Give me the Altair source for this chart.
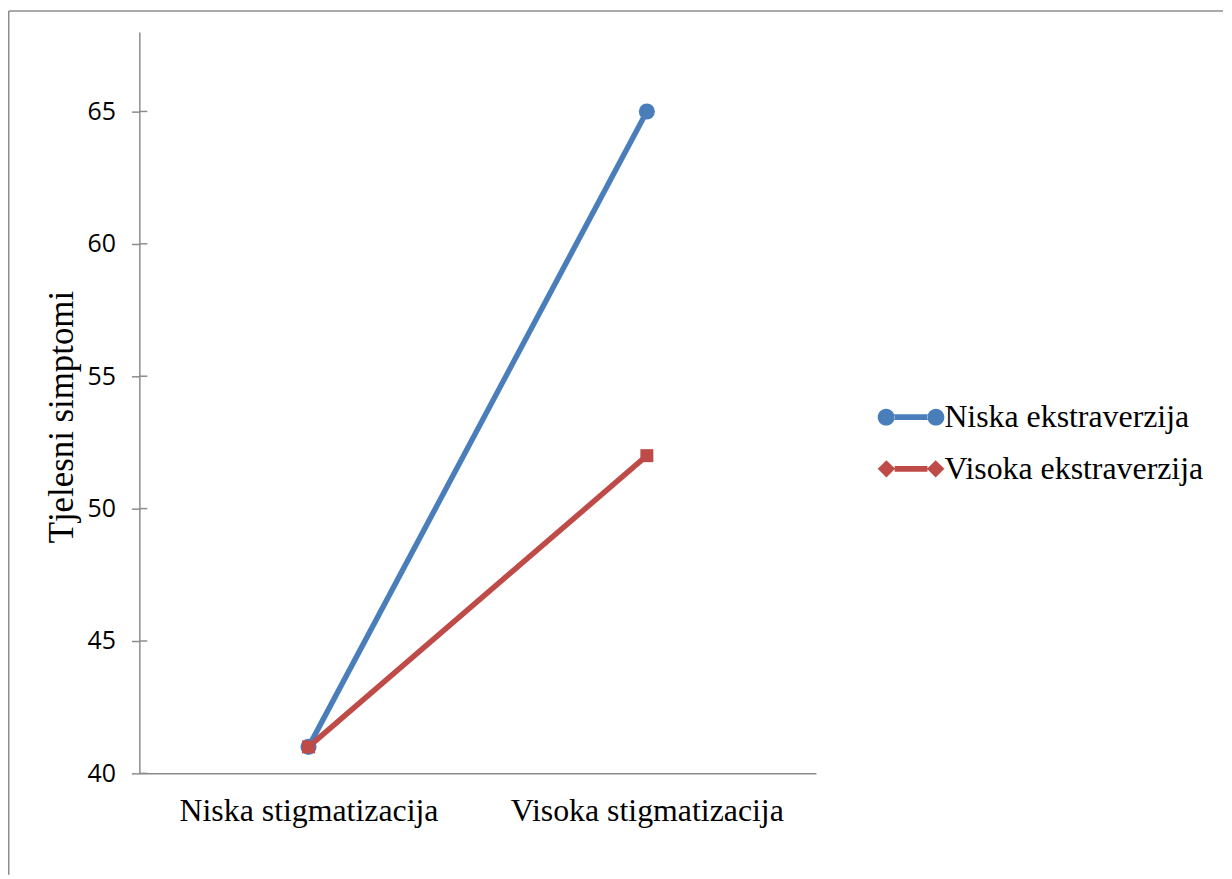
import altair as alt
import pandas as pd

# ---- data ----
categories = ["Niska stigmatizacija", "Visoka stigmatizacija"]
series_names = ["Niska ekstraverzija", "Visoka ekstraverzija"]
niska_ekstraverzija = [41, 65]
visoka_ekstraverzija = [41, 52]
y_ticks = [40, 45, 50, 55, 60, 65]
y_domain = [40, 68]
y_title = "Tjelesni simptomi"

# ---- styles ----
colors = ["#4A7EBB", "#BE4B48"]
axis_gray = "#8c8c8c"
serif = "Liberation Serif"

rows = []
for s, vals in zip(series_names, [niska_ekstraverzija, visoka_ekstraverzija]):
    for c, v in zip(categories, vals):
        rows.append({"kategorija": c, "serija": s, "vrijednost": v})
df = pd.DataFrame(rows)

x_enc = alt.X(
    "kategorija:N", sort=categories,
    scale=alt.Scale(type="point", padding=0.5),
    axis=alt.Axis(title=None, labelAngle=0, labelFont=serif, labelFontSize=32,
                  labelColor="black", ticks=False, tickSize=0, labelPadding=22,
                  domainColor=axis_gray, domainWidth=1.5, grid=False, labelLimit=0),
)
y_scale = alt.Scale(domain=y_domain, nice=False, zero=False)
y_axis = alt.Axis(values=y_ticks, title=y_title, titleFont=serif, titleFontSize=35,
                  titleFontWeight="normal", titleColor="black", titleX=-78, titleY=386.5,
                  titleAngle=270, titleAlign="center", titleBaseline="middle",
                  labelFont="Open Sans", labelFontSize=25, labelColor="black",
                  labelPadding=16, tickSize=8, tickColor=axis_gray, tickWidth=1.5,
                  domainColor=axis_gray, domainWidth=1.5, grid=False)
y_enc = alt.Y("vrijednost:Q", scale=y_scale, axis=y_axis)
color_scale = alt.Scale(domain=series_names, range=colors)

# legend symbols: line with circle / diamond ends (custom SVG paths)
path_circle = ("M -1.34 0 A 0.34 0.34 0 1 0 -0.66 0 A 0.34 0.34 0 1 0 -1.34 0 Z "
               "M 0.66 0 A 0.34 0.34 0 1 0 1.34 0 A 0.34 0.34 0 1 0 0.66 0 Z "
               "M -0.68 -0.12 L 0.68 -0.12 L 0.68 0.12 L -0.68 0.12 Z")
path_diamond = ("M -1.34 0 L -0.99 -0.35 L -0.64 0 L -0.99 0.35 Z "
                "M 0.64 0 L 0.99 -0.35 L 1.34 0 L 0.99 0.35 Z "
                "M -0.66 -0.12 L 0.66 -0.12 L 0.66 0.12 L -0.66 0.12 Z")

leg = alt.Legend(title=None, orient="none", legendX=750.5, legendY=362,
                 symbolSize=2500, symbolStrokeWidth=0, symbolOpacity=1,
                 labelFont=serif, labelFontSize=32, labelColor="black",
                 labelOffset=8.5, rowPadding=11, padding=0, labelLimit=0)

base = alt.Chart(df)

# frame (left and top edges of the chart border)
frame_df = pd.DataFrame({"k": [0]})
frame_left = alt.Chart(frame_df).mark_rule(color=axis_gray, strokeWidth=1.5).encode(
    x=alt.value(-131.25), y=alt.value(-21.25), y2=alt.value(847))
frame_top = alt.Chart(frame_df).mark_rule(color=axis_gray, strokeWidth=1.5).encode(
    x=alt.value(-131.25), x2=alt.value(1089), y=alt.value(-21.25))

# inner half of the crossing y ticks
tick_df = pd.DataFrame({"vrijednost": y_ticks})
inner_ticks = alt.Chart(tick_df).mark_rule(color=axis_gray, strokeWidth=1.5).encode(
    y=y_enc, x=alt.value(0), x2=alt.value(8))

layers = [frame_left, frame_top, inner_ticks]
for s, col in zip(series_names, colors):
    layers.append(base.transform_filter(alt.datum.serija == s).mark_line(
        strokeWidth=5.5, color=col).encode(x=x_enc, y=y_enc))
layers.append(base.transform_filter(alt.datum.serija == series_names[0]).mark_point(
    shape="circle", filled=True, size=260, opacity=1, color=colors[0]).encode(x=x_enc, y=y_enc))
layers.append(base.transform_filter(alt.datum.serija == series_names[1]).mark_point(
    shape="square", filled=True, size=170, opacity=1, color=colors[1]).encode(x=x_enc, y=y_enc))

legend_layer = base.mark_point(filled=True, opacity=0).encode(
    x=x_enc, y=y_enc,
    color=alt.Color("serija:N", scale=color_scale, legend=leg),
    shape=alt.Shape("serija:N", scale=alt.Scale(domain=series_names,
                                                range=[path_circle, path_diamond]),
                    legend=leg))
layers.append(legend_layer)

chart = alt.layer(*layers).properties(
    width=680, height=745, padding=0, background="white"
).configure_view(stroke=None)

chart.save("out.html", embed_options={"renderer": "svg", "actions": False})
